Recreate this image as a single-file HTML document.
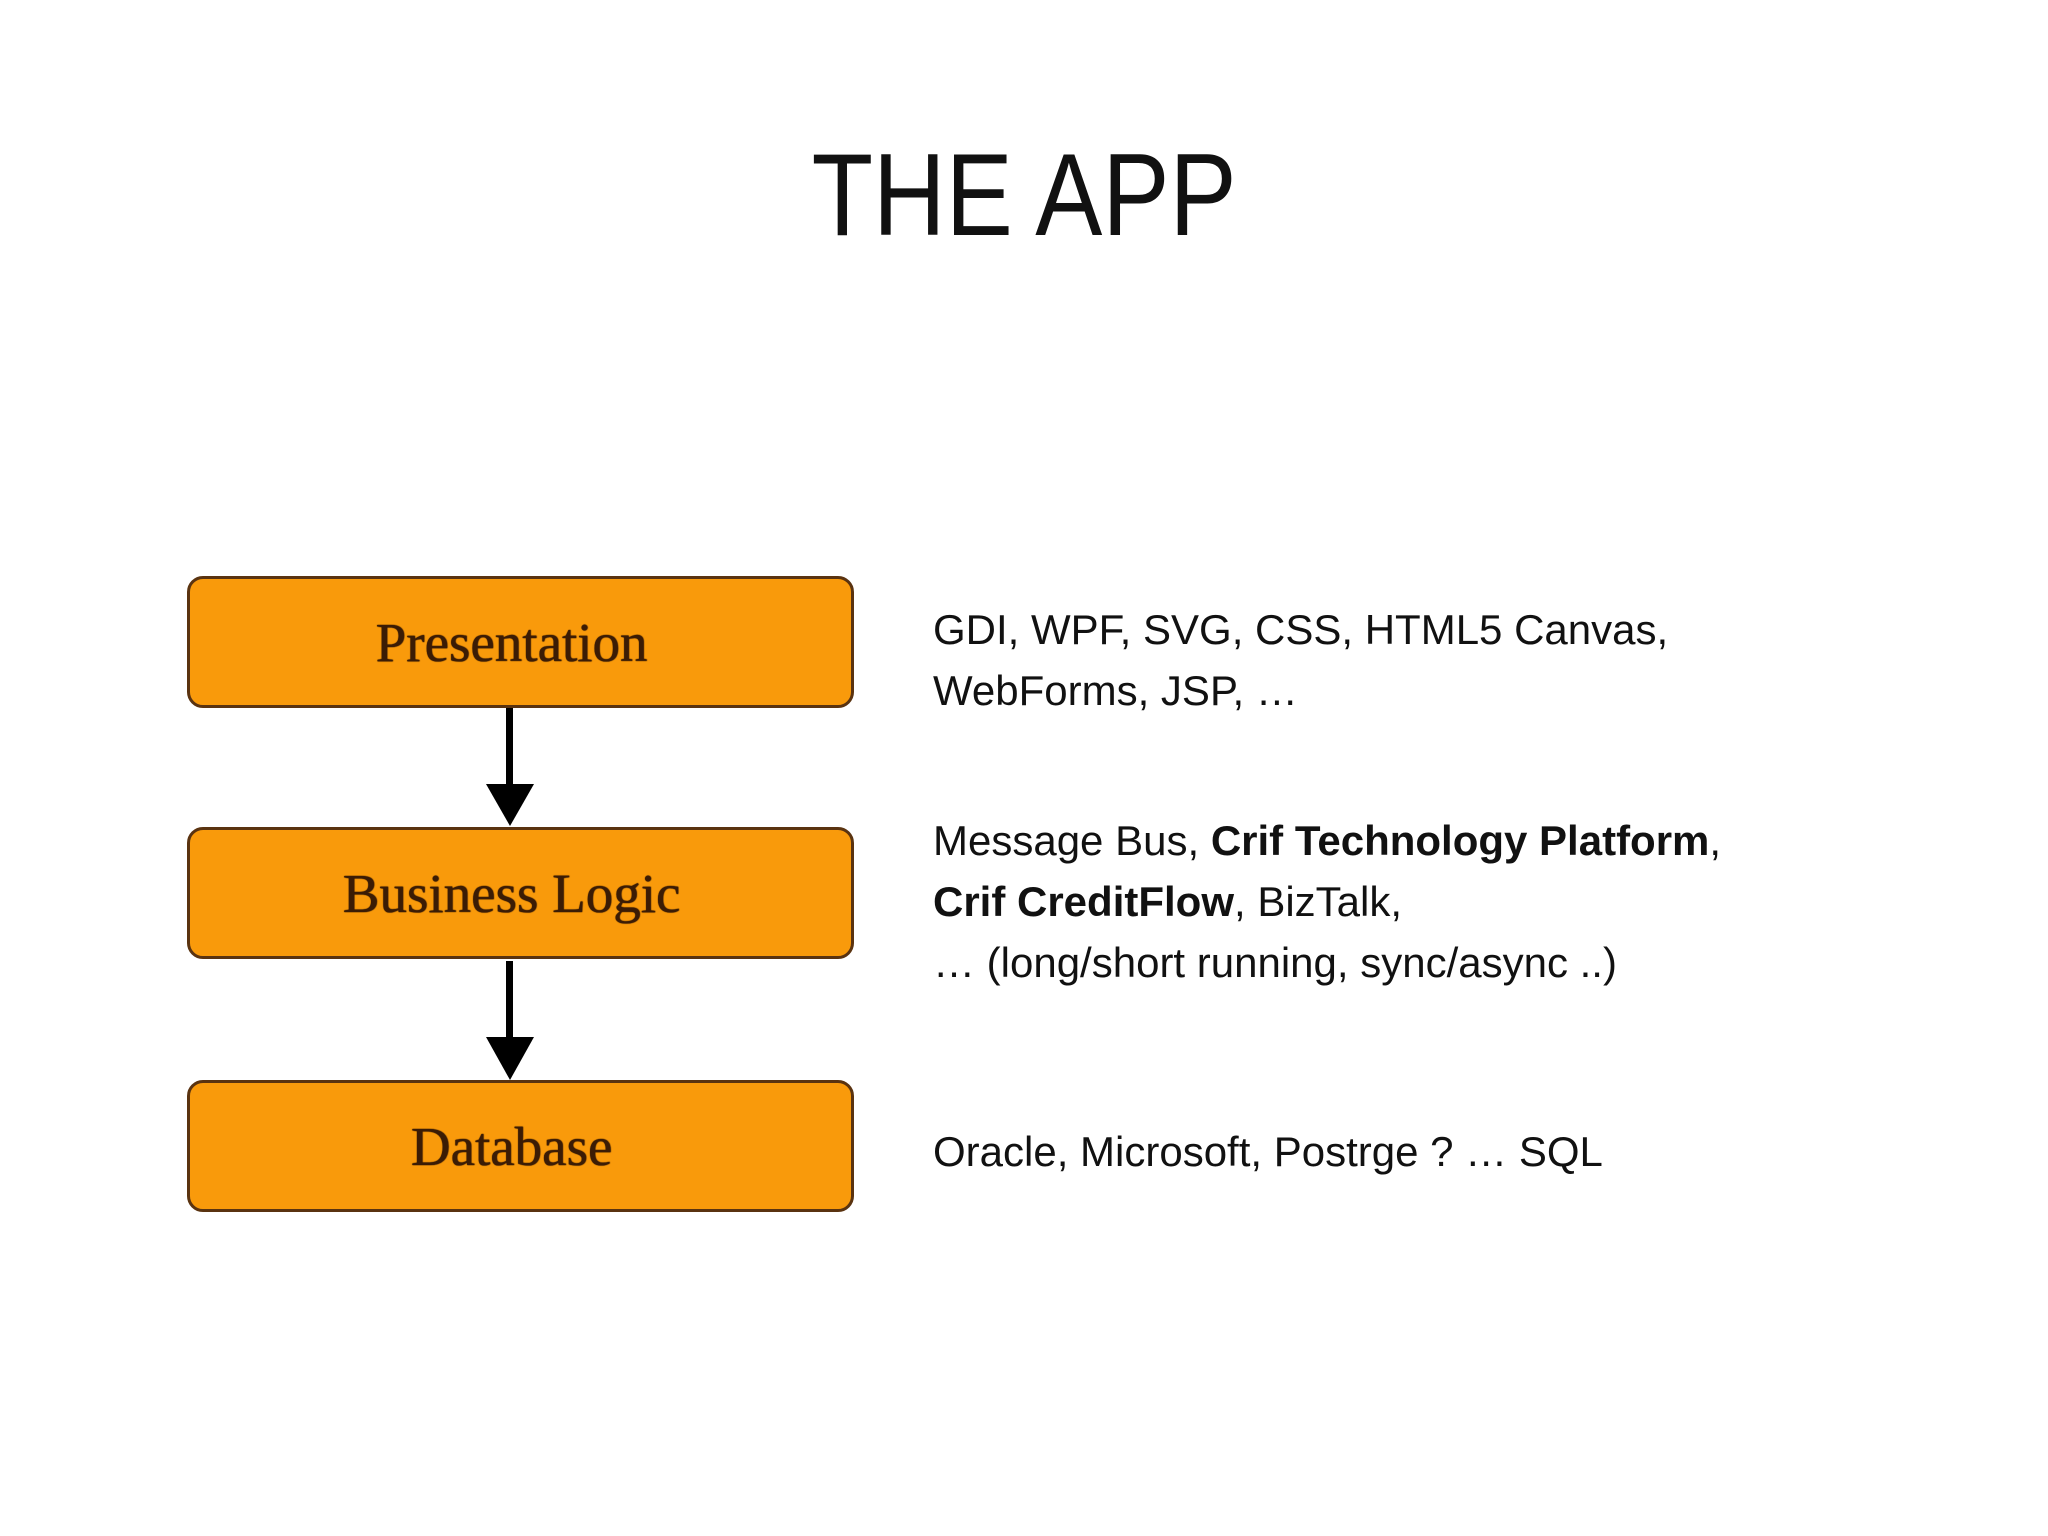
<!DOCTYPE html>
<html><head><meta charset="utf-8"><style>
body{margin:0;width:2048px;height:1536px;background:#fff;position:relative;overflow:hidden;font-family:"Liberation Sans",sans-serif;}
.title{position:absolute;left:0;width:2048px;top:136px;text-align:center;font-size:117px;line-height:117px;color:#111;}
.title span{display:inline-block;transform:scaleX(0.86);}
.box{position:absolute;left:187px;width:643px;padding-right:18px;height:126px;background:#f99a0b;border:3px solid #5a3310;border-radius:16px;display:flex;align-items:center;justify-content:center;font-family:"Liberation Serif",serif;font-size:55px;color:#3b1c05;text-shadow:0 0 1px #3b1c05,0.5px 0 1px #3b1c05;}
.txt{position:absolute;left:933px;font-size:42px;line-height:61px;color:#111;white-space:nowrap;}
b{font-weight:bold;}
</style></head><body>
<div class="title"><span>THE APP</span></div>
<div class="box" style="top:576px">Presentation</div>
<div class="box" style="top:827px">Business Logic</div>
<div class="box" style="top:1080px">Database</div>
<svg style="position:absolute;left:0;top:0" width="2048" height="1536">
<rect x="506" y="708" width="7" height="78" fill="#000"/>
<polygon points="486,784 534,784 510,826" fill="#000"/>
<rect x="506" y="961" width="7" height="78" fill="#000"/>
<polygon points="486,1037 534,1037 510,1080" fill="#000"/>
</svg>
<div class="txt" style="top:599px">GDI, WPF, SVG, CSS, HTML5 Canvas,<br>WebForms, JSP, …</div>
<div class="txt" style="top:810px">Message Bus, <b>Crif Technology Platform</b>,<br><b>Crif CreditFlow</b>, BizTalk,<br>… (long/short running, sync/async ..)</div>
<div class="txt" style="top:1121px">Oracle, Microsoft, Postrge ? … SQL</div>
</body></html>
